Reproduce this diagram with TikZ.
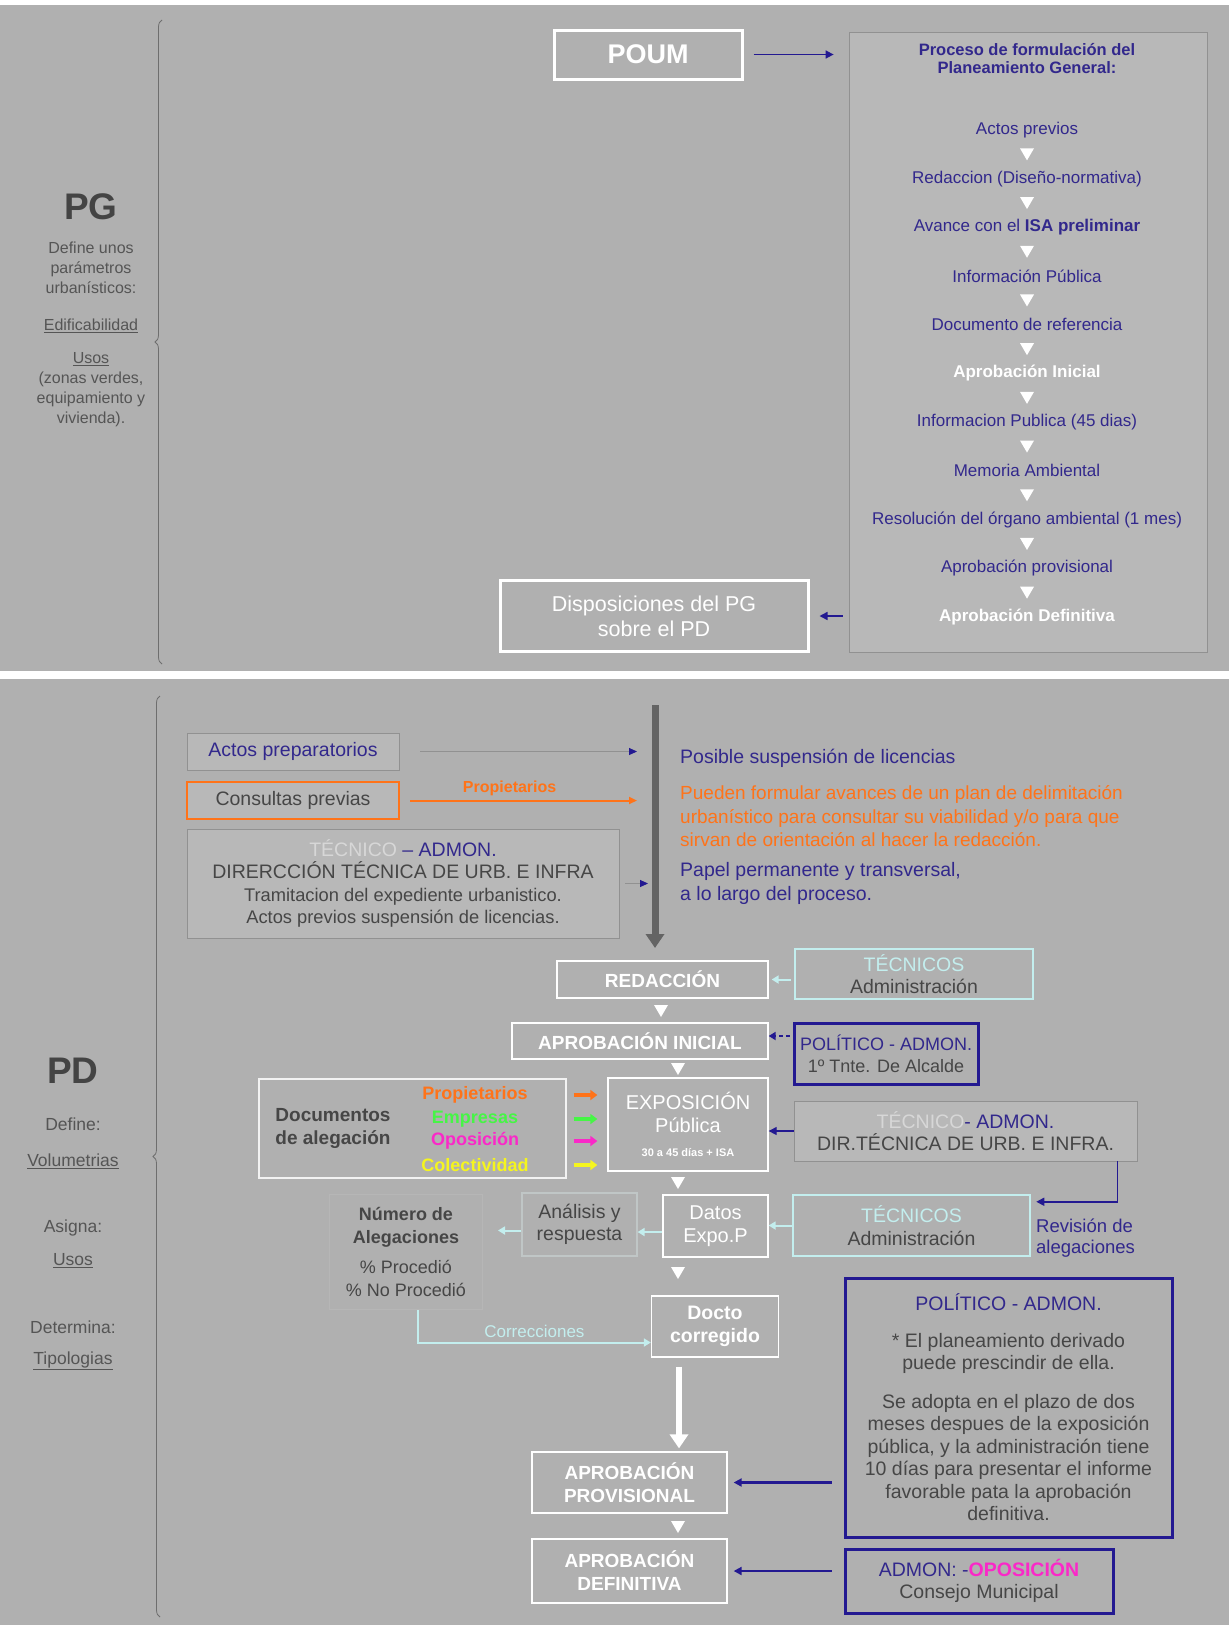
\documentclass[tikz,border=0pt]{standalone}
\usepackage{fontspec}
\setmainfont{Liberation Sans}
\usetikzlibrary{arrows.meta,decorations.pathreplacing,calc}
\definecolor{panel}{RGB}{176,176,176}
\definecolor{boxfill}{RGB}{184,184,184}
\definecolor{boxedge}{RGB}{145,145,145}
\definecolor{faintedge}{RGB}{192,198,198}
\definecolor{navytxt}{RGB}{50,40,140}
\definecolor{navyline}{RGB}{35,25,145}
\definecolor{darktxt}{RGB}{70,70,70}
\definecolor{sidegray}{RGB}{85,85,85}
\definecolor{bracecol}{RGB}{110,110,110}
\definecolor{lcyan}{RGB}{195,238,238}
\definecolor{tecwhite}{RGB}{215,215,215}
\definecolor{orng}{RGB}{255,115,25}
\definecolor{grn}{RGB}{70,245,70}
\definecolor{mgnt}{RGB}{250,40,200}
\definecolor{yllw}{RGB}{245,245,30}
\definecolor{arrowgray}{RGB}{100,100,100}
\begin{document}
\begin{tikzpicture}[x=1pt,y=-1pt,
    every node/.style={font=\fontsize{19.5}{22.5}\selectfont,inner sep=0pt,align=center,text=darktxt},
    sz/.style 2 args={minimum width=#1,minimum height=#2},
    wbox/.style={draw=white,line width=3pt,text=white},
    flowbox/.style={draw=white,line width=1.3pt,text=white},
    gbox/.style={draw=boxedge,fill=boxfill,line width=.8pt},
    cbox/.style={draw=lcyan,line width=2.5pt},
    bluebox/.style={draw=navyline,line width=3pt},
    sidetxt/.style={font=\fontsize{#1}{20}\selectfont,text=sidegray},
    sidetxt/.default=16,
    bigtxt/.style={font=\fontsize{37}{40}\selectfont\bfseries,text=sidegray!80!black},
    stepitem/.style={font=\fontsize{17}{20}\selectfont,text=navytxt},
    navyarr/.style={draw=navyline,line width=1.6pt,-{Triangle[length=8pt,width=8pt]}},
    grayarr/.style={draw=boxedge,line width=1pt,-{Triangle[color=navyline,length=8pt,width=7pt]}},
    cyanarr/.style={draw=lcyan,line width=2pt,-{Triangle[length=7pt,width=8pt]}},
    tri/.style={fill=white}]
  % background
  \useasboundingbox (0,0) rectangle (1229,1625);
  \fill[white] (0,0) rectangle (1229,1625);
  \fill[panel] (0,5) rectangle (1229,671);
  \fill[panel] (0,679) rectangle (1229,1625);

  % PG panel
  \draw[bracecol,line width=.8pt,decorate,decoration={brace,amplitude=7pt}] (162,664) -- (162,20);
  \node[bigtxt] (pg) at (91,207) {PG};
  \node[sidetxt] (pgdef) at (91,268) {Define unos\\parámetros\\urbanísticos:};
  \node[sidetxt] (edif) at (91,326) {\underline{Edificabilidad}};
  \node[sidetxt] (usos) at (91,390) {\underline{Usos}\\(zonas verdes,\\equipamiento y\\vivienda).};

  \node[wbox,sz={188pt}{49pt},font=\fontsize{27}{30}\selectfont\bfseries] (poum) at (648,54.5) {POUM};
  \node[gbox,sz={358pt}{620pt}] (rbox) at (1028,342) {};
  \node[font=\fontsize{16.5}{18}\selectfont\bfseries,text=navytxt] (title) at (1027,59) {Proceso de formulación del\\Planeamiento General:};
  \foreach \txt [count=\i] in {Actos previos, Redaccion (Diseño-normativa),
      {Avance con el \textbf{ISA preliminar}}, Información Pública, Documento de referencia,
      {\color{white}\bfseries Aprobación Inicial}, Informacion Publica (45 dias), Memoria Ambiental,
      Resolución del órgano ambiental (1 mes), Aprobación provisional,
      {\color{white}\bfseries Aprobación Definitiva}}
    \node[stepitem] (s\i) at (1027,{130+48.7*(\i-1)}) {\txt};
  \foreach \i [remember=\i as \j (initially 1)] in {2,...,11}
    \fill[tri] ($(s\j)!.5!(s\i)$) +(-7,-6) -- +(7,-6) -- +(0,6) -- cycle;
  \node[wbox,sz={308pt}{71pt},font=\fontsize{21.5}{25}\selectfont] (disp) at (654,616) {Disposiciones del PG\\sobre el PD};
  \draw[navyarr,shorten <=10pt,shorten >=15pt] (poum.east) -- (poum.east -| rbox.west);
  \draw[navyarr,shorten <=6pt,shorten >=10pt] (disp.east -| rbox.west) -- (disp.east);

  % PD panel
  \draw[bracecol,line width=.8pt,decorate,decoration={brace,amplitude=7pt}] (160,1617) -- (160,696);
  \node[bigtxt] (pd) at (73,1071) {PD};
  \node[sidetxt=17.5] (defn) at (73,1124) {Define:};
  \node[sidetxt=17.5] (vol) at (73,1161) {\underline{Volumetrias}};
  \node[sidetxt=17.5] (asig) at (73,1228) {Asigna:};
  \node[sidetxt=17.5] (usosd) at (73,1261) {\underline{Usos}};
  \node[sidetxt=17.5] (deter) at (73,1327) {Determina:};
  \node[sidetxt=17.5] (tipo) at (73,1361) {\underline{Tipologias}};

  \draw[arrowgray,line width=7pt,-{Triangle[length=14pt,width=18pt]}] (655,705) coordinate (vtop) -- (655,948) coordinate (vbot);
  \node[gbox,sz={212pt}{37pt},text=navytxt] (actos) at (293,751.5) {Actos preparatorios};
  \node[gbox,draw=orng,line width=2pt,sz={212pt}{37pt}] (consul) at (293,800.5) {Consultas previas};
  \node[gbox,sz={432pt}{109pt}] (tecadm) at (403,883.5) {{\color{tecwhite}TÉCNICO} {\color{navytxt}– ADMON.}\\DIRERCCIÓN TÉCNICA DE URB. E INFRA\\{\fontsize{18.3}{22.5}\selectfont Tramitacion del expediente urbanistico.}\\{\fontsize{18.3}{22.5}\selectfont Actos previos suspensión de licencias.}};
  \draw[grayarr,shorten <=21pt,shorten >=18pt] (actos.east) -- (actos.east -| vtop);
  \draw[orng,line width=2pt,-{Triangle[length=8pt,width=7pt]},shorten <=10pt,shorten >=18pt] (consul.east) -- (consul.east -| vtop)
    node[pos=.43,above=4pt,font=\fontsize{16}{18}\selectfont\bfseries,text=orng] (propl) {Propietarios};
  \draw[grayarr,shorten <=6pt,shorten >=7pt] (tecadm.east) -- (tecadm.east -| vtop);
  \node[anchor=west,text=navytxt] (posib) at (680,758) {Posible suspensión de licencias};
  \node[anchor=west,align=left,text=orng,font=\fontsize{19}{23.5}\selectfont] (puede) at (680,816.5) {Pueden formular avances de un plan de delimitación\\urbanístico para consultar su viabilidad y/o para que\\sirvan de orientación al hacer la redacción.};
  \node[anchor=west,align=left,text=navytxt,font=\fontsize{19.5}{24}\selectfont] (papel) at (680,883) {Papel permanente y transversal,\\a lo largo del proceso.};

  % flow
  \node[flowbox,sz={211pt}{37pt},font=\fontsize{19}{22}\selectfont\bfseries] (redac) at (662.5,979.5) {REDACCIÓN};
  \node[flowbox,sz={256pt}{36pt},font=\fontsize{19}{22}\selectfont\bfseries] (aini) at (640,1041) {APROBACIÓN INICIAL};
  \node[flowbox,sz={160pt}{93pt},font=\fontsize{20}{23}\selectfont] (expo) at (688,1124.5) {EXPOSICIÓN\\Pública\\[1pt]{\fontsize{11}{13}\selectfont\bfseries 30 a 45 días + ISA}};
  \node[flowbox,sz={105pt}{62pt},font=\fontsize{20}{23}\selectfont] (datos) at (715.5,1226) {Datos\\Expo.P};
  \node[flowbox,sz={127pt}{61pt},font=\fontsize{19.5}{23}\selectfont\bfseries] (docto) at (715,1326.5) {Docto\\corregido};
  \node[flowbox,sz={195pt}{61pt},font=\fontsize{19}{23}\selectfont\bfseries] (apro) at (629.5,1482.5) {APROBACIÓN\\PROVISIONAL};
  \node[flowbox,sz={195pt}{64pt},font=\fontsize{19}{23}\selectfont\bfseries] (adef) at (629.5,1571) {APROBACIÓN\\DEFINITIVA};
  \foreach \x/\y in {661/1011,678/1069,678/1183,678/1273,678/1527}
    \fill[tri] (\x,\y) +(-7,-6) -- +(7,-6) -- +(0,6) -- cycle;
  \coordinate (flowx) at (679,0);
  \draw[white,line width=6pt,-{Triangle[length=14pt,width=18pt]},shorten <=9pt,shorten >=3pt] (docto.south -| flowx) -- (apro.north -| flowx);

  % alegaciones
  \node[draw=white!90!gray,line width=1.3pt,sz={307pt}{99pt}] (docs) at (412.5,1128.5) {};
  \node[font=\fontsize{19}{23}\selectfont\bfseries] (doctxt) at (333,1128) {Documentos\\de alegación};
  \foreach \w/\c/\y [count=\i] in {Propietarios/orng/1095,Empresas/grn/1119,Oposición/mgnt/1141,Colectividad/yllw/1165} {
    \node[font=\fontsize{18}{21}\selectfont\bfseries,text=\c] (w\i) at (475,\y) {\w};
    \draw[draw=\c,line width=4pt,-{Triangle[length=7pt,width=10pt]},shorten <=7pt,shorten >=10pt] (w\i.east -| docs.east) -- (w\i.east -| expo.west);
  }
  \node[draw=faintedge,line width=1.2pt,sz={115pt}{63pt}] (anal) at (579.5,1224.5) {Análisis y\\respuesta};
  \node[draw=panel!93!white,line width=1pt,sz={153pt}{115pt},font=\fontsize{18}{22.5}\selectfont] (numero) at (406,1252) {\textbf{Número de}\\\textbf{Alegaciones}\\[8pt]\% Procedió\\\% No Procedió};
  \draw[cyanarr] ([yshift=-6pt]datos.west) -- ([yshift=-6pt]datos.west -| anal.east);
  \draw[cyanarr,shorten >=15pt] ([yshift=-6pt]anal.west) -- ([yshift=-6pt]anal.west -| numero.east);
  \draw[cyanarr] ([xshift=12pt]numero.south) |- ([yshift=-16pt]docto.west)
    node[pos=.75,above=4pt,text=lcyan,font=\fontsize{17}{20}\selectfont] (corr) {Correcciones};

  % right column
  \node[cbox,sz={238pt}{50pt}] (tecs1) at (914,974) {{\color{lcyan}TÉCNICOS}\\Administración};
  \node[bluebox,sz={184pt}{61pt},font=\fontsize{18}{22}\selectfont] (pol1) at (886,1053.5) {{\color{navytxt}POLÍTICO - ADMON.}\\1º Tnte. De Alcalde};
  \node[gbox,sz={343pt}{60pt}] (tecdir) at (965.5,1131) {{\color{tecwhite}TÉCNICO}{\color{navytxt} - ADMON.}\\DIR.TÉCNICA DE URB. E INFRA.};
  \node[cbox,sz={237pt}{61pt}] (tecs2) at (911.5,1225.5) {{\color{lcyan}TÉCNICOS}\\Administración};
  \node[anchor=west,align=left,text=navytxt,font=\fontsize{18.5}{21}\selectfont] (revis) at (1036,1238) {Revisión de\\alegaciones};
  \node[bluebox,sz={327pt}{259pt}] (pol2) at (1008.5,1407.5) {{\color{navytxt}POLÍTICO - ADMON.}\\[14pt]* El planeamiento derivado\\puede prescindir de ella.\\[16pt]Se adopta en el plazo de dos\\meses despues de la exposición\\pública, y la administración tiene\\10 días para presentar el informe\\favorable pata la aprobación\\definitiva.};
  \node[bluebox,sz={268pt}{64pt}] (pol3) at (979,1581) {{\color{navytxt}ADMON: -}{\color{mgnt}\bfseries OPOSICIÓN}\\Consejo Municipal};

  \draw[cyanarr,shorten <=3pt,shorten >=3pt] (redac.east -| tecs1.west) -- (redac.east);
  \draw[navyline,line width=1.8pt,dash pattern=on 4pt off 3pt,-{Triangle[length=7pt,width=8pt]},shorten <=3pt] ([yshift=5pt]aini.east -| pol1.west) -- ([yshift=5pt]aini.east);
  \draw[navyarr,line width=1.2pt] (tecdir.west) -- (tecdir.west -| expo.east);
  \draw[navyarr,shorten >=5pt] ([xshift=-20pt]tecdir.south east) |- ([yshift=-8pt]tecs2.north east);
  \draw[cyanarr] (tecs2.west) -- (tecs2.west -| datos.east);
  \draw[navyarr,line width=2.5pt,shorten <=12pt,shorten >=6pt] (apro.east -| pol2.west) -- (apro.east);
  \draw[navyarr,line width=2.5pt,shorten <=12pt,shorten >=6pt] (adef.east -| pol3.west) -- (adef.east);
\end{tikzpicture}
\end{document}
